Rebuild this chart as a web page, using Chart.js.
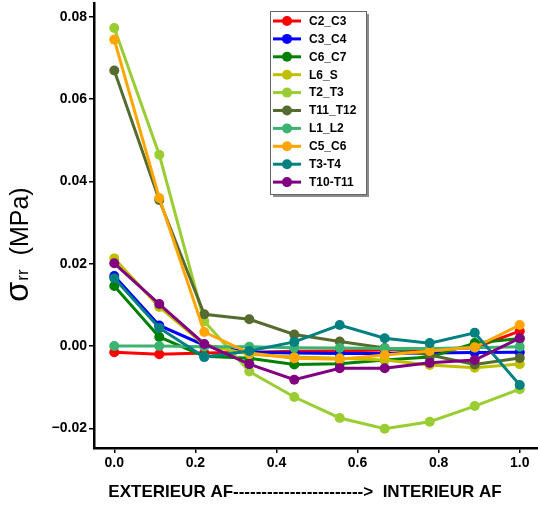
<!DOCTYPE html>
<html>
<head>
<meta charset="utf-8">
<script src="https://cdn.jsdelivr.net/npm/chart.js@4/dist/chart.umd.min.js"></script>
<style>
  html, body { margin: 0; padding: 0; background: #fff; overflow: hidden; }
  #wrap { width: 540px; height: 506px; position: relative; }
</style>
</head>
<body>
<div id="wrap"><canvas id="c" width="540" height="506"></canvas></div>
<script>
// ---- data ----
const xPositions = [0.0, 0.111, 0.222, 0.333, 0.444, 0.556, 0.667, 0.778, 0.889, 1.0];
const seriesNames = ["C2_C3", "C3_C4", "C6_C7", "L6_S", "T2_T3", "T11_T12", "L1_L2", "C5_C6", "T3-T4", "T10-T11"];
const seriesColors = ["#ff0000", "#0000ff", "#008000", "#bfbf00", "#9acd32", "#556b2f", "#3cb371", "#ffa500", "#008080", "#800080"];
const C2_C3   = [-0.0015, -0.0020, -0.0017, -0.0015, -0.0013, -0.0012, -0.0010, -0.0008, -0.0004, 0.0036];
const C3_C4   = [0.0170, 0.0050, 0.0002, -0.0015, -0.0017, -0.0018, -0.0018, -0.0017, -0.0016, -0.0015];
const C6_C7   = [0.0146, 0.0022, -0.0025, -0.0030, -0.0045, -0.0043, -0.0034, -0.0027, 0.0007, 0.0018];
const L6_S    = [0.0213, 0.0095, 0.0003, -0.0020, -0.0027, -0.0030, -0.0034, -0.0046, -0.0053, -0.0044];
const T2_T3   = [0.0773, 0.0465, 0.0060, -0.0062, -0.0124, -0.0175, -0.0201, -0.0184, -0.0146, -0.0105];
const T11_T12 = [0.0670, 0.0355, 0.0077, 0.0065, 0.0028, 0.0011, -0.0005, -0.0022, -0.0045, -0.0029];
const L1_L2   = [0.0000, 0.0000, -0.0002, -0.0002, -0.0004, -0.0005, -0.0006, -0.0006, -0.0004, -0.0002];
const C5_C6   = [0.0745, 0.0360, 0.0034, -0.0017, -0.0030, -0.0032, -0.0022, -0.0012, -0.0003, 0.0051];
const T3_T4   = [0.0165, 0.0044, -0.0027, -0.0012, 0.0010, 0.0051, 0.0019, 0.0007, 0.0032, -0.0095];
const T10_T11 = [0.0201, 0.0102, 0.0005, -0.0044, -0.0082, -0.0054, -0.0054, -0.0041, -0.0034, 0.0019];
const seriesValues = [C2_C3, C3_C4, C6_C7, L6_S, T2_T3, T11_T12, L1_L2, C5_C6, T3_T4, T10_T11];
const xTicks = [0.0, 0.2, 0.4, 0.6, 0.8, 1.0];
const yTicks = [-0.02, 0.0, 0.02, 0.04, 0.06, 0.08];
const xTitle = "EXTERIEUR AF-----------------------> \u00a0INTERIEUR AF";

const FONT = "'Liberation Sans', Arial, sans-serif";

const datasets = seriesNames.map((name, i) => ({
  label: name,
  data: xPositions.map((x, k) => ({ x: x, y: seriesValues[i][k] })),
  borderColor: seriesColors[i],
  backgroundColor: seriesColors[i],
  pointBackgroundColor: seriesColors[i],
  pointBorderWidth: 0,
  pointRadius: 5,
  borderWidth: 3,
  tension: 0,
  order: seriesNames.length - i
}));

const overlay = {
  id: 'overlay',
  afterDraw(chart) {
    const ctx = chart.ctx;
    ctx.save();
    // x axis title
    ctx.fillStyle = '#000';
    ctx.font = "bold 17px " + FONT;
    ctx.textAlign = 'center';
    ctx.textBaseline = 'middle';
    ctx.fillText(xTitle, 305, 492);

    // y axis title (rotated)
    ctx.save();
    ctx.translate(28, 302);
    ctx.rotate(-Math.PI / 2);
    ctx.textAlign = 'left';
    ctx.textBaseline = 'alphabetic';
    ctx.font = "33px " + FONT;
    ctx.fillText("\u03c3", 0, 0);
    let w = ctx.measureText("\u03c3").width;
    ctx.font = "17px " + FONT;
    ctx.fillText("rr", w + 1, 0);
    w += 1 + ctx.measureText("rr").width;
    ctx.font = "25px " + FONT;
    ctx.fillText("  (MPa)", w, 0);
    ctx.restore();

    // legend
    const lx = 270, ly = 11, lw = 96, lh = 183;
    ctx.fillStyle = 'rgba(0,0,0,0.45)';
    ctx.fillRect(lx + 3, ly + 3, lw, lh);
    ctx.fillStyle = '#fff';
    ctx.fillRect(lx, ly, lw, lh);
    ctx.strokeStyle = '#666';
    ctx.lineWidth = 1;
    ctx.strokeRect(lx + 0.5, ly + 0.5, lw, lh);
    ctx.font = "bold 12px " + FONT;
    ctx.textAlign = 'left';
    ctx.textBaseline = 'middle';
    seriesNames.forEach((name, i) => {
      const y = 21 + i * 17.9;
      ctx.strokeStyle = seriesColors[i];
      ctx.lineWidth = 3;
      ctx.beginPath();
      ctx.moveTo(273, y);
      ctx.lineTo(301, y);
      ctx.stroke();
      ctx.fillStyle = seriesColors[i];
      ctx.beginPath();
      ctx.arc(287, y, 5, 0, Math.PI * 2);
      ctx.fill();
      ctx.fillStyle = '#000';
      ctx.fillText(name, 309, y + 0.5);
    });
    ctx.restore();
  }
};

new Chart(document.getElementById('c'), {
  type: 'line',
  data: { datasets: datasets },
  options: {
    responsive: false,
    devicePixelRatio: 1,
    animation: false,
    layout: { autoPadding: false, padding: { top: 3, right: 0, bottom: 0, left: 0 } },
    plugins: { legend: { display: false }, tooltip: { enabled: false } },
    scales: {
      x: {
        type: 'linear',
        min: -0.05, max: 1.05,
        afterFit(s) { s.height = 58; s.paddingLeft = 0; s.paddingRight = 0; },
        afterBuildTicks(s) { s.ticks = xTicks.map(v => ({ value: v })); },
        grid: { drawOnChartArea: false, tickLength: 5, color: '#000', lineWidth: 1.5 },
        border: { display: true, color: '#000', width: 2.5 },
        ticks: {
          color: '#000', padding: 2, maxRotation: 0,
          font: { family: FONT, size: 14, weight: 'bold' },
          callback: v => v.toFixed(1)
        }
      },
      y: {
        type: 'linear',
        min: -0.0248, max: 0.0834,
        afterFit(s) { s.width = 94; s.paddingTop = 0; s.paddingBottom = 0; },
        afterBuildTicks(s) { s.ticks = yTicks.map(v => ({ value: v })); },
        grid: { drawOnChartArea: false, tickLength: 5, color: '#000', lineWidth: 1.5 },
        border: { display: true, color: '#000', width: 2.5 },
        ticks: {
          color: '#000', padding: 2,
          font: { family: FONT, size: 14, weight: 'bold' },
          callback: v => v.toFixed(2).replace('-', '\u2212')
        }
      }
    }
  },
  plugins: [overlay]
});
</script>
</body>
</html>
